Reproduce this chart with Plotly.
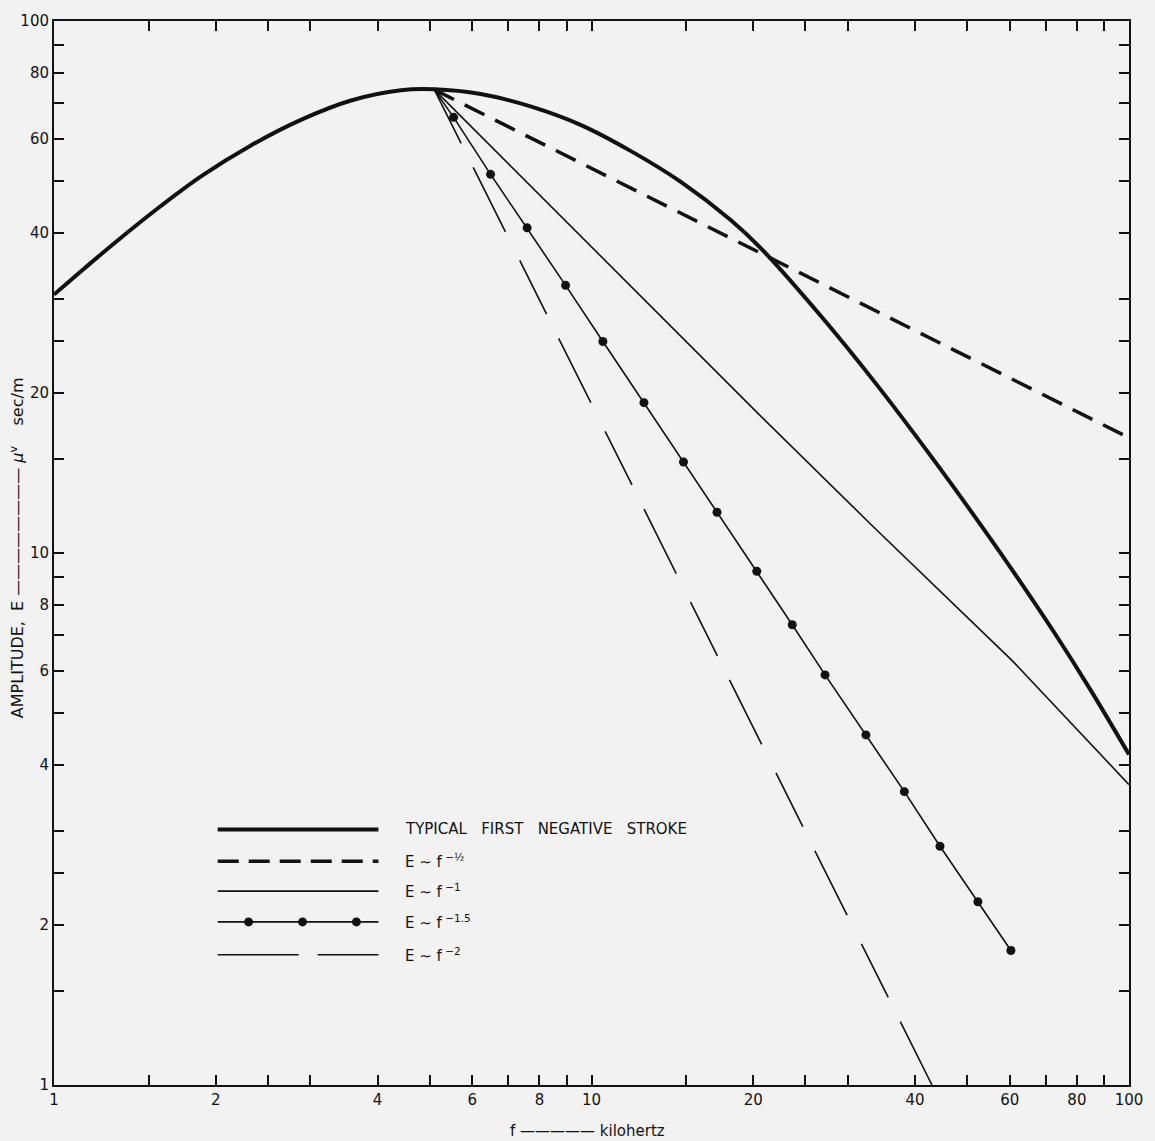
import plotly.graph_objects as go

# ---------------- data ----------------
# Typical first negative stroke (kHz, µv sec/m)
stroke_f = [1.0, 1.14, 1.31, 1.58, 1.88, 2.32, 2.88, 3.57, 4.42, 5.1,
            6.22, 7.70, 9.54, 11.82, 14.64, 18.13, 20.6, 26.6, 33.65, 42.6,
            50.8, 60.7, 72.4, 84.8, 100.0]
stroke_E = [30.6, 34.3, 38.6, 44.9, 51.1, 58.3, 65.2, 70.9, 74.1, 74.4,
            72.9, 69.1, 63.8, 57.0, 49.9, 42.3, 37.5, 28.04, 20.95, 15.31,
            11.99, 9.28, 7.12, 5.53, 4.18]

# E ~ f^-1/2
half_f = [5.1, 100.0]
half_E = [74.3, 16.47]

# E ~ f^-1
one_f = [5.1, 20.4, 33.0, 60.7, 100.0]
one_E = [74.3, 18.3, 11.35, 6.27, 3.67]

# E ~ f^-1.5 (line starts at peak; dots at read positions)
onehalf_start_f = [5.1]
onehalf_start_E = [74.3]
onehalf_f = [5.54, 6.49, 7.59, 8.95, 10.5, 12.52, 14.83, 17.12, 20.3, 23.63,
             27.2, 32.4, 38.2, 44.5, 52.35, 60.3]
onehalf_E = [65.9, 51.5, 40.85, 31.85, 24.98, 19.17, 14.83, 11.93, 9.24, 7.33,
             5.90, 4.55, 3.56, 2.81, 2.21, 1.79]

# E ~ f^-2
two_f = [5.1, 43.0]
two_E = [74.3, 1.0]

# ticks
tick_vals = [1, 1.5, 2, 2.5, 3, 4, 5, 6, 7, 8, 9, 10, 15, 20, 25, 30, 40, 50,
             60, 70, 80, 90, 100]
labeled = {1: "1", 2: "2", 4: "4", 6: "6", 8: "8", 10: "10", 20: "20",
           40: "40", 60: "60", 80: "80", 100: "100"}
tick_text = [labeled.get(v, "") for v in tick_vals]

legend_labels = ["TYPICAL   FIRST   NEGATIVE   STROKE",
                 "E ∼ f<sup> −½</sup>",
                 "E ∼ f<sup> −1</sup>",
                 "E ∼ f<sup> −1.5</sup>",
                 "E ∼ f<sup> −2</sup>"]

# ---------------- figure ----------------
BG = "#f2f2f2"
INK = "#111111"
FONT = "DejaVu Sans"

fig = go.Figure()

fig.add_trace(go.Scatter(x=stroke_f, y=stroke_E, mode="lines",
                         line=dict(color=INK, width=4, shape="spline", smoothing=1.0),
                         showlegend=False, hoverinfo="skip"))
fig.add_trace(go.Scatter(x=half_f, y=half_E, mode="lines",
                         line=dict(color=INK, width=3.5, dash="22px,12px"),
                         showlegend=False, hoverinfo="skip"))
fig.add_trace(go.Scatter(x=one_f, y=one_E, mode="lines",
                         line=dict(color=INK, width=1.6),
                         showlegend=False, hoverinfo="skip"))
fig.add_trace(go.Scatter(x=onehalf_start_f + onehalf_f, y=onehalf_start_E + onehalf_E,
                         mode="lines", line=dict(color=INK, width=1.6),
                         showlegend=False, hoverinfo="skip"))
fig.add_trace(go.Scatter(x=onehalf_f, y=onehalf_E, mode="markers",
                         marker=dict(color=INK, size=9),
                         showlegend=False, hoverinfo="skip"))
fig.add_trace(go.Scatter(x=two_f, y=two_E, mode="lines",
                         line=dict(color=INK, width=1.6, dash="60px,27px,72px,32px"),
                         showlegend=False, hoverinfo="skip"))

axis_common = dict(
    type="log",
    tickvals=tick_vals,
    ticktext=tick_text,
    ticks="inside",
    ticklen=10,
    tickwidth=1.5,
    tickcolor=INK,
    showline=True,
    linecolor=INK,
    linewidth=2,
    mirror="allticks",
    showgrid=False,
    zeroline=False,
    tickfont=dict(family=FONT, size=15, color=INK),
)

fig.update_xaxes(range=[0, 2], **axis_common)
fig.update_yaxes(range=[0, 2], **axis_common)

# ---------------- manual legend ----------------
x0, x1 = 0.1523, 0.3018
rows = [0.2402, 0.2103, 0.1822, 0.1533, 0.1224]
styles = [
    dict(width=4, dash="solid"),
    dict(width=3.5, dash="21px,10px"),
    dict(width=1.6, dash="solid"),
    dict(width=1.6, dash="solid"),
    dict(width=1.6, dash="81px,19px"),
]
shapes = []
for yv, st in zip(rows, styles):
    shapes.append(dict(type="line", xref="paper", yref="paper",
                       x0=x0, x1=x1, y0=yv, y1=yv,
                       line=dict(color=INK, width=st["width"], dash=st["dash"])))
# dots of the f^-1.5 sample (pixel-sized circles)
for xd in [0.181, 0.2312, 0.2813]:
    shapes.append(dict(type="circle", xref="paper", yref="paper",
                       xsizemode="pixel", ysizemode="pixel",
                       xanchor=xd, yanchor=rows[3],
                       x0=-4.5, x1=4.5, y0=-4.5, y1=4.5,
                       fillcolor=INK, line=dict(color=INK, width=0)))

annotations = []
for yv, lab in zip(rows, legend_labels):
    annotations.append(dict(xref="paper", yref="paper", x=0.325, y=yv,
                            text=lab, showarrow=False, xanchor="left",
                            yanchor="middle",
                            font=dict(family=FONT, size=15, color=INK)))

# axis titles
annotations.append(dict(xref="paper", yref="paper", x=0.496, y=-0.0435,
                        text="f ————— kilohertz", showarrow=False,
                        xanchor="center", yanchor="middle",
                        font=dict(family=FONT, size=15, color=INK)))
annotations.append(dict(xref="paper", yref="paper", x=-0.034, y=0.505,
                        text="AMPLITUDE,  E ———————— <i>μ</i><sup>v</sup>    sec/m",
                        textangle=-90, showarrow=False,
                        xanchor="center", yanchor="middle",
                        font=dict(family=FONT, size=16, color=INK)))

fig.update_layout(
    width=1155, height=1141,
    margin=dict(l=54, r=25, t=15, b=56),
    paper_bgcolor=BG, plot_bgcolor=BG,
    shapes=shapes, annotations=annotations,
    showlegend=False,
)

fig.write_html("out.html",
               config={"displayModeBar": False},
               post_script="document.body.style.margin='0';"
                           "document.body.style.background='#f2f2f2';")
